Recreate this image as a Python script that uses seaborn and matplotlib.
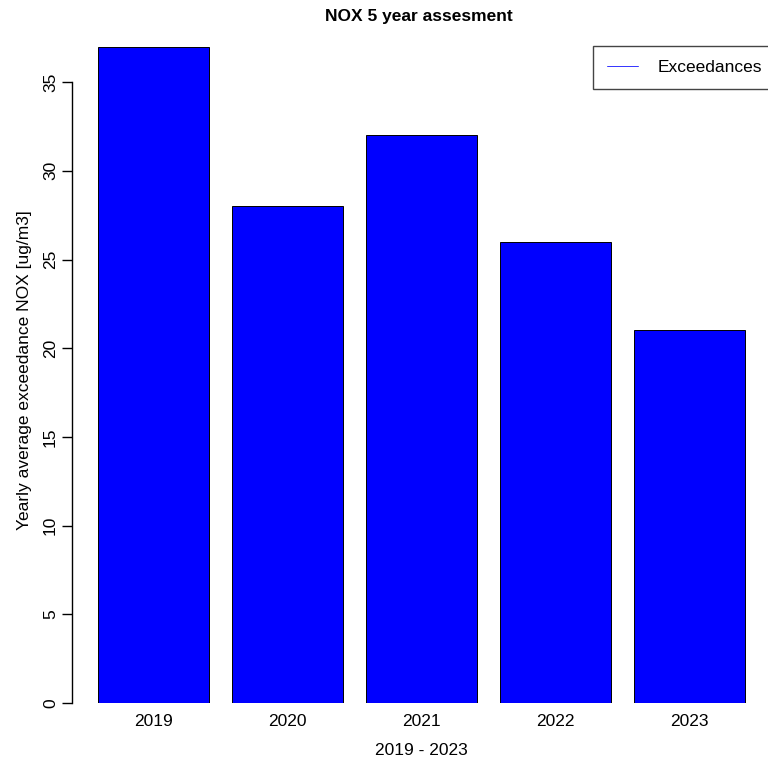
import matplotlib
matplotlib.use("Agg")
import matplotlib.pyplot as plt
from matplotlib.lines import Line2D
import seaborn as sns
import pandas as pd

# Yearly average NOX exceedances
years = ["2019", "2020", "2021", "2022", "2023"]
exceedances = [37, 28, 32, 26, 21]
y_ticks = [0, 5, 10, 15, 20, 25, 30, 35]

df = pd.DataFrame({"year": years, "exceedances": exceedances})

sns.set_style("white")
plt.rcParams["font.family"] = ["Liberation Sans", "DejaVu Sans"]
plt.rcParams["text.color"] = "black"
plt.rcParams["axes.labelcolor"] = "black"

W, H = 768, 761
fig = plt.figure(figsize=(W / 100, H / 100), dpi=100)
# plot region in pixel terms: left 72, right 771, top 20, baseline 703
ax_w, ax_h = 771 - 72, 703 - 20.4
ax = fig.add_axes([72 / W, (H - 703) / H, ax_w / W, ax_h / H])

sns.barplot(data=df, x="year", y="exceedances", color="#0000ff",
            saturation=1, width=1 / 1.2, edgecolor="black", linewidth=0.7,
            ax=ax)

ax.set_xlim(-0.61, 4.61)
ax.set_ylim(0, 38.48)
ax.set_yticks(y_ticks)
ax.set_yticklabels([str(t) for t in y_ticks], rotation=90, va="center",
                   fontsize=12.5)
ax.tick_params(axis="y", length=7, width=1, pad=3, color="black",
               labelcolor="black", left=True)
ax.tick_params(axis="x", length=0, pad=8, labelsize=12.5, labelcolor="black")

for side in ["top", "right", "bottom"]:
    ax.spines[side].set_visible(False)
ax.spines["left"].set_bounds(0, 35)
ax.spines["left"].set_color("black")
ax.spines["left"].set_linewidth(1)

ax.set_xlabel("2019 - 2023", fontsize=12.5, labelpad=10)
ax.set_ylabel("Yearly average exceedance NOX [ug/m3]", fontsize=12.5)
ax.yaxis.set_label_coords((32 - 72) / ax_w, (703 - 370) / ax_h)

fig.text((325 + 513) / 2 / W, 1 - 17 / H, "NOX 5 year assesment",
         ha="center", va="center", fontsize=12.5, fontweight="bold")

handle = Line2D([], [], color="#3333ff", lw=0.7)
leg = fig.legend([handle], ["Exceedances"], loc="upper left",
                 bbox_to_anchor=(593 / W, 1 - 46 / H), borderaxespad=0,
                 fontsize=12.5, frameon=True, fancybox=False, framealpha=1,
                 edgecolor="#444444", handlelength=1.8, handletextpad=1.1,
                 borderpad=0.8)
leg.get_frame().set_linewidth(1)

fig.savefig("out.png", dpi=100, facecolor="white")
